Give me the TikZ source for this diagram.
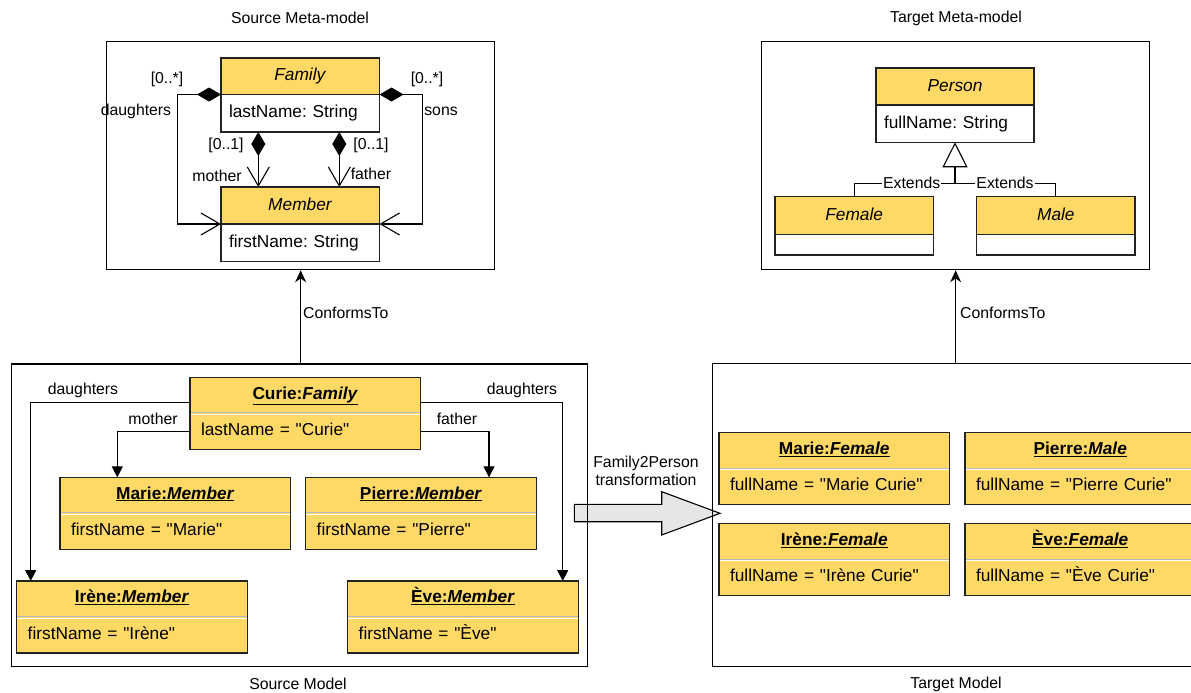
\documentclass[tikz,border=0pt]{standalone}
\usepackage{fontspec}
\setmainfont{Liberation Sans}[Ligatures=TeXOff]
\frenchspacing
\usetikzlibrary{arrows.meta,calc}
\definecolor{umlyellow}{HTML}{FFD966}
\definecolor{arrowgrey}{HTML}{E6E6E6}
\definecolor{bordc}{HTML}{222222}
\definecolor{sepgrey}{HTML}{B8B8B8}
\begin{document}
\begin{tikzpicture}[x=1pt,y=-1pt,
  big/.style={font=\fontsize{17.3}{20}\selectfont},
  small/.style={font=\fontsize{15.8}{19}\selectfont},
  frame/.style={draw=black, line width=1.3pt, anchor=north west, inner sep=0pt},
  clshead/.style={draw=bordc, fill=umlyellow, line width=1.1pt, anchor=north west, inner sep=0pt, outer sep=0pt, text height=13pt, text depth=4pt, big},
  clsbody/.style={draw=bordc, fill=white, line width=1.1pt, anchor=north west, inner xsep=8pt, inner ysep=0pt, outer sep=0pt, align=left, big},
  objhead/.style={fill=umlyellow, anchor=north west, inner sep=0pt, outer sep=0pt, minimum width=230.5pt, minimum height=35.5pt, text height=13pt, text depth=5pt, big},
  objbody/.style={fill=umlyellow, anchor=north west, inner xsep=11pt, inner ysep=0pt, outer sep=0pt, text width=208.5pt, text height=13pt, text depth=4pt, minimum height=36.5pt, align=left, big},
  objframe/.style={draw=bordc, line width=1.2pt},
  sepl/.style={draw=sepgrey, line width=1.3pt},
  line/.style={draw=black, line width=1.1pt},
  objarr/.style={line, -{Triangle[length=11pt,width=11pt]}},
  comp/.style={line, {Diamond[length=24pt,width=14pt]}-{Straight Barb[length=19pt,width=22pt]}},
  lbl/.style={small, inner sep=1pt}
]
\useasboundingbox (0,0) rectangle (1191,693);

% ---------- titles ----------
\node[small] (t1) at (300,18) {Source Meta-model};
\node[small] (t2) at (956,18) {Target Meta-model};
\node[small] (t3) at (298,684) {Source Model};
\node[small] (t4) at (956,684) {Target Model};

% ---------- transformation arrow ----------
\draw[line width=1.1pt, fill=arrowgrey] (574.3,504.3) -- (661.7,504.3) -- (661.7,491.7) -- (720,513.3)
   -- (661.7,535) -- (661.7,521.7) -- (574.3,521.7) -- cycle;
\node[small, align=center] (trl) at (646,471) {Family2Person\\[-1pt]transformation};

% ---------- frames ----------
\node[frame, minimum width=388pt, minimum height=228pt] (smeta) at (106,41) {};
\node[frame, minimum width=388pt, minimum height=228pt] (tmeta) at (761,41) {};
\node[frame, minimum width=576pt, minimum height=302.7pt] (srcmod) at (10.7,363.3) {};
\node[frame, minimum width=520pt, minimum height=303pt] (tgtmod) at (711.7,362.7) {};

% ---------- source meta-model ----------
\node[clshead, minimum width=158.5pt, minimum height=36.5pt] (famh) at (221,58) {\textit{Family}};
\node[clsbody, text width=142.5pt, minimum height=37.5pt] (famb) at (famh.south west) {lastName: String};
\node[clshead, minimum width=158.5pt, minimum height=37pt] (memh) at (221,187) {\textit{Member}};
\node[clsbody, text width=142.5pt, minimum height=37.5pt] (memb) at (memh.south west) {firstName: String};

\draw[comp] (famh.south west) -- ++(-43.3,0) |- (memh.south west);
\draw[comp] (famh.south east) -- ++(43.3,0) |- (memh.south east);
\draw[comp] ($(famb.south west)+(37.3,0)$) -- ($(memh.north west)+(37.3,0)$);
\draw[comp] ($(famb.south west)+(118.3,0)$) -- ($(memh.north west)+(118.3,0)$);

\node[lbl] (l1) at (167,79) {[0..*]};
\node[lbl] (l2) at (136,111) {daughters};
\node[lbl] (l3) at (427,79) {[0..*]};
\node[lbl] (l4) at (441,111) {sons};
\node[lbl] (l5) at (226,145) {[0..1]};
\node[lbl] (l6) at (217,176) {mother};
\node[lbl] (l7) at (371,145) {[0..1]};
\node[lbl] (l8) at (371,174) {father};

% ---------- target meta-model ----------
\node[clshead, minimum width=158pt, minimum height=37pt] (perh) at (876,68) {\textit{Person}};
\node[clsbody, text width=142pt, minimum height=37.3pt] (perb) at (perh.south west) {fullName: String};
\node[clshead, minimum width=158.3pt, minimum height=37.6pt] (femh) at (775,196.7) {\textit{Female}};
\node[clsbody, minimum width=158.3pt, minimum height=20.7pt, font=\fontsize{5}{5}\selectfont] (femb) at (femh.south west) {};
\node[clshead, minimum width=158.3pt, minimum height=37.6pt] (malh) at (976.7,196.7) {\textit{Male}};
\node[clsbody, minimum width=158.3pt, minimum height=20.7pt, font=\fontsize{5}{5}\selectfont] (malb) at (malh.south west) {};

\coordinate (junc) at ($(perb.south)+(0,41)$);
\draw[line] (femh.north) |- (junc);
\draw[line] (malh.north) |- (junc);
\draw[line, -{Triangle[open,length=25pt,width=25pt]}] (junc) -- (perb.south);
\node[lbl, fill=white] (e1) at (911.7,183.3) {Extends};
\node[lbl, fill=white] (e2) at (1005,183.3) {Extends};

% ---------- conformsTo ----------
\draw[line, -{Stealth[length=12pt,width=11pt]}] (smeta.south |- srcmod.north) -- (smeta.south);
\node[lbl, anchor=west] (c1) at (302,313) {ConformsTo};
\draw[line, -{Stealth[length=12pt,width=11pt]}] (tmeta.south |- tgtmod.north) -- (tmeta.south);
\node[lbl, anchor=west] (c2) at (959,313) {ConformsTo};

% ---------- source model objects ----------
\node[objhead] (curieh) at (190,377.3) {\underline{\textbf{Curie:\textit{Family}}}};
\node[objbody] (curieb) at (curieh.south west) {lastName = "Curie"};
\node[objhead] (mmh) at (60,477.3) {\underline{\textbf{Marie:\textit{Member}}}};
\node[objbody] (mmb) at (mmh.south west) {firstName = "Marie"};
\node[objhead] (pmh) at (305.7,477.3) {\underline{\textbf{Pierre:\textit{Member}}}};
\node[objbody] (pmb) at (pmh.south west) {firstName = "Pierre"};
\node[objhead] (imh) at (16.7,581) {\underline{\textbf{Irène:\textit{Member}}}};
\node[objbody] (imb) at (imh.south west) {firstName = "Irène"};
\node[objhead] (emh) at (347.7,581) {\underline{\textbf{Ève:\textit{Member}}}};
\node[objbody] (emb) at (emh.south west) {firstName = "Ève"};

% ---------- target model objects ----------
\node[objhead] (mfh) at (719,432.7) {\underline{\textbf{Marie:\textit{Female}}}};
\node[objbody] (mfb) at (mfh.south west) {fullName = "Marie Curie"};
\node[objhead] (pmah) at (965,432.7) {\underline{\textbf{Pierre:\textit{Male}}}};
\node[objbody] (pmab) at (pmah.south west) {fullName = "Pierre Curie"};
\node[objhead] (ifh) at (719,523.7) {\underline{\textbf{Irène:\textit{Female}}}};
\node[objbody] (ifb) at (ifh.south west) {fullName = "Irène Curie"};
\node[objhead] (efh) at (965,523.7) {\underline{\textbf{Ève:\textit{Female}}}};
\node[objbody] (efb) at (efh.south west) {fullName = "Ève Curie"};

\foreach \h/\b in {curieh/curieb, mmh/mmb, pmh/pmb, imh/imb, emh/emb, mfh/mfb, pmah/pmab, ifh/ifb, efh/efb}{
  \draw[sepl] (\h.south west) -- (\h.south east);
  \draw[white, line width=1pt] ($(\h.south west)+(0,1.6)$) -- ($(\h.south east)+(0,1.6)$);
  \draw[objframe] (\h.north west) rectangle (\b.south east);
}

% ---------- object links ----------
\draw[objarr] ($(curieh.south west)+(0,-10)$) -| ($(imh.north west)+(14,0)$);
\draw[objarr] (curieb.west) -| ($(mmh.north west)+(57.3,0)$);
\draw[objarr] ($(curieh.south east)+(0,-10)$) -| ($(emh.north west)+(215,0)$);
\draw[objarr] (curieb.east) -| ($(pmh.north west)+(183.3,0)$);
\node[lbl] (d1) at (83,390) {daughters};
\node[lbl] (m1) at (153,419) {mother};
\node[lbl] (d2) at (522,390) {daughters};
\node[lbl] (f1) at (457,419) {father};
\end{tikzpicture}
\end{document}
